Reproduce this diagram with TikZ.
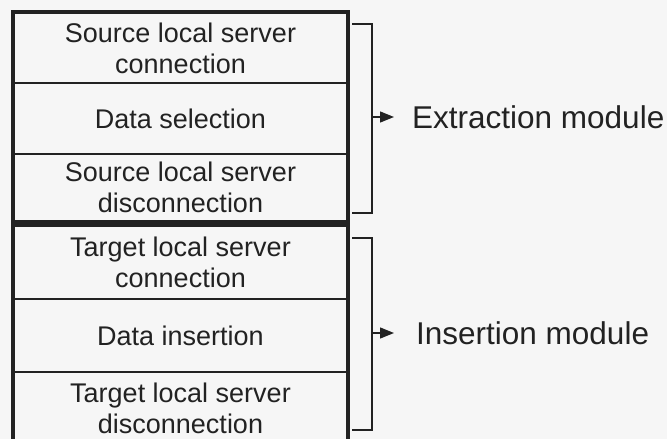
\documentclass[tikz,border=0pt]{standalone}
\usepackage{fontspec}
\setmainfont{Liberation Sans}
\usetikzlibrary{arrows.meta}
\definecolor{ink}{HTML}{222222}
\definecolor{paper}{HTML}{F6F6F6}
\begin{document}
\begin{tikzpicture}[x=1pt,y=-1pt,
  row/.style={draw=ink, line width=1.3pt, minimum width=333pt, align=center, text=ink,
    font=\fontsize{27}{31}\selectfont, inner sep=0pt},
  block/.style={draw=ink, line width=4pt},
  brace/.style={draw=ink, line width=1.3pt},
  modlabel/.style={anchor=west, text=ink, font=\fontsize{31.5}{36}\selectfont, inner sep=0pt}]
\fill[paper] (0,0) rectangle (667,439);
\useasboundingbox (0,0) rectangle (667,439);
% extraction block
\node[row, minimum height=70pt] (s1) at (180.5,48)  {Source local server\\connection};
\node[row, minimum height=71pt] (s2) at (180.5,118.5) {Data selection};
\node[row, minimum height=67pt] (s3) at (180.5,187.5) {Source local server\\disconnection};
\draw[block] (s1.north west) rectangle (s3.south east);
% insertion block
\node[row, minimum height=73pt] (t1) at (180.5,262.5) {Target local server\\connection};
\node[row, minimum height=73pt] (t2) at (180.5,335.5) {Data insertion};
\node[row, minimum height=73pt] (t3) at (180.5,408.5) {Target local server\\disconnection};
\draw[block] (t1.north west) rectangle (t3.south east);
% modules
\node[modlabel] (ext) at (412,117) {Extraction module};
\node[modlabel] (ins) at (416,333) {Insertion module};
\coordinate (e1) at (372,117);
\coordinate (i1) at (372,333);
\draw[brace] (352,24) -| (e1) |- (352,213);
\draw[brace] (352,238) -| (i1) |- (352,430);
\draw[brace, ->, >={Triangle[length=14pt,width=11pt]}] (e1) -- ([xshift=-18pt]ext.west);
\draw[brace, ->, >={Triangle[length=14pt,width=11pt]}] (i1) -- ([xshift=-22pt]ins.west);
\end{tikzpicture}
\end{document}
